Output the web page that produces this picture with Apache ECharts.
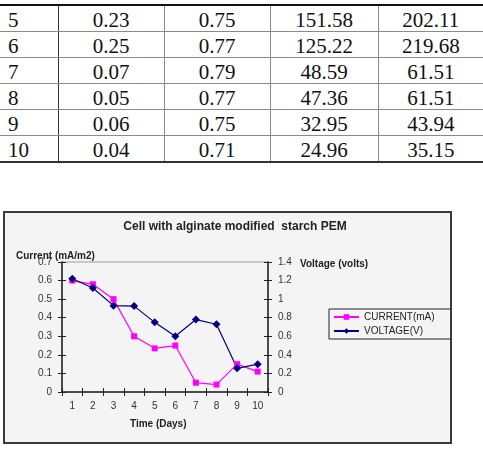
<!DOCTYPE html>
<html>
<head>
<meta charset="utf-8">
<script src="https://cdn.jsdelivr.net/npm/echarts@6/dist/echarts.min.js"></script>
<style>
  html, body { margin: 0; padding: 0; background: #fff; }
  body { width: 483px; height: 452px; position: relative; overflow: hidden; }
  #tbl {
    position: absolute; left: 0; top: 4px; width: 483px;
    border-collapse: collapse; table-layout: fixed;
    font-family: "Liberation Serif", "DejaVu Serif", serif; font-size: 21px; color: #111;
  }
  #tbl td {
    height: 26px; padding: 3px 0 0 0; box-sizing: border-box; line-height: 22px;
    border-top: 1px solid #8a8a8a; border-bottom: 1px solid #8a8a8a;
    border-left: 1px solid #8a8a8a; text-align: center; vertical-align: middle;
  }
  #tbl tr:first-child td { border-top: 2px solid #111; }
  #tbl tr:last-child td { border-bottom: 2px solid #333; }
  #tbl td:first-child { border-left: none; text-align: left; padding-left: 8px; }
  #tbl td:nth-child(2) { border-left-color: #333; }
  #frame {
    position: absolute; left: 3px; top: 211px; width: 449px; height: 233px;
    box-sizing: border-box; border: 2px solid #3a3a3a; background: #f4f4f4;
  }
  #chart { width: 445px; height: 229px; }
</style>
</head>
<body>
<table id="tbl">
  <colgroup><col style="width:58px"><col style="width:106px"><col style="width:106px"><col style="width:108px"><col style="width:105px"></colgroup>
  <tbody></tbody>
</table>
<div id="frame"><div id="chart"></div></div>
<script>
// table rows (days 5-10)
const tableDays = ['5', '6', '7', '8', '9', '10'];
const tableCurrent = ['0.23', '0.25', '0.07', '0.05', '0.06', '0.04'];
const tableVoltage = ['0.75', '0.77', '0.79', '0.77', '0.75', '0.71'];
const tableCol4 = ['151.58', '125.22', '48.59', '47.36', '32.95', '24.96'];
const tableCol5 = ['202.11', '219.68', '61.51', '61.51', '43.94', '35.15'];

// chart data
const days = ['1', '2', '3', '4', '5', '6', '7', '8', '9', '10'];
const current = [0.60, 0.58, 0.50, 0.30, 0.235, 0.25, 0.05, 0.04, 0.15, 0.11];
const voltage = [1.22, 1.12, 0.93, 0.925, 0.75, 0.60, 0.78, 0.73, 0.255, 0.30];

const tbody = document.querySelector('#tbl tbody');
tableDays.forEach((d, i) => {
    const tr = document.createElement('tr');
    [d, tableCurrent[i], tableVoltage[i], tableCol4[i], tableCol5[i]].forEach(v => {
        const td = document.createElement('td');
        td.textContent = v;
        tr.appendChild(td);
    });
    tbody.appendChild(tr);
});

const chart = echarts.init(document.getElementById('chart'), null, { renderer: 'canvas' });
const font = '"Liberation Sans", Arial, sans-serif';
const axisColor = '#222';

const tickOut = { show: true, inside: false, length: 4, lineStyle: { color: axisColor } };
const tickIn = { show: true, inside: true, length: 4, lineStyle: { color: axisColor } };

const option = {
    animation: false,
    textStyle: { fontFamily: font },
    grid: {
        left: 57, right: 182, top: 49, bottom: 50,
        show: true, borderColor: '#9a9a9a', borderWidth: 1, backgroundColor: 'transparent'
    },
    legend: {
        orient: 'vertical',
        left: 324, top: 96,
        padding: [3, 16, 3, 4],
        itemGap: 4,
        itemWidth: 25,
        itemHeight: 7,
        borderColor: '#222',
        borderWidth: 1,
        textStyle: { fontFamily: font, fontSize: 10, color: '#222' },
        data: ['CURRENT(mA)', 'VOLTAGE(V)']
    },
    xAxis: [{
        type: 'category',
        data: days,
        boundaryGap: true,
        axisLine: { lineStyle: { color: axisColor, width: 1.5 } },
        axisTick: Object.assign({ interval: 0 }, tickOut),
        axisLabel: { margin: 9, fontSize: 10, color: '#333', fontFamily: font },
        splitLine: { show: false }
    }, {
        type: 'category',
        data: days,
        position: 'bottom',
        boundaryGap: true,
        axisLine: { show: false },
        axisTick: Object.assign({ interval: 0 }, tickIn),
        axisLabel: { show: false },
        splitLine: { show: false }
    }],
    yAxis: [{
        type: 'value', position: 'left',
        min: 0, max: 0.7, interval: 0.1,
        axisLine: { show: true, lineStyle: { color: axisColor, width: 1.5 } },
        axisTick: tickOut,
        axisLabel: { margin: 10, fontSize: 10, color: '#333', fontFamily: font },
        splitLine: { show: false }
    }, {
        type: 'value', position: 'right',
        min: 0, max: 1.4, interval: 0.2,
        axisLine: { show: true, lineStyle: { color: axisColor, width: 1.5 } },
        axisTick: tickOut,
        axisLabel: { margin: 10, fontSize: 10, color: '#333', fontFamily: font },
        splitLine: { show: false }
    }, {
        type: 'value', position: 'left',
        min: 0, max: 0.7, interval: 0.1,
        axisLine: { show: false },
        axisTick: tickIn,
        axisLabel: { show: false },
        splitLine: { show: false }
    }, {
        type: 'value', position: 'right',
        min: 0, max: 1.4, interval: 0.2,
        axisLine: { show: false },
        axisTick: tickIn,
        axisLabel: { show: false },
        splitLine: { show: false }
    }],
    graphic: [{
        type: 'text', x: 230, y: 8,
        style: { text: 'Cell with alginate modified  starch PEM', font: 'bold 12px ' + font, fill: '#222', textAlign: 'center' }
    }, {
        type: 'text', left: 11, top: 38,
        style: { text: 'Current (mA/m2)', font: 'bold 10px ' + font, fill: '#222' }
    }, {
        type: 'text', left: 295, top: 46,
        style: { text: 'Voltage (volts)', font: 'bold 10px ' + font, fill: '#222' }
    }, {
        type: 'text', left: 125, top: 206,
        style: { text: 'Time (Days)', font: 'bold 10px ' + font, fill: '#222' }
    }],
    series: [{
        name: 'CURRENT(mA)',
        type: 'line',
        data: current,
        yAxisIndex: 0,
        symbol: 'rect',
        symbolSize: 6,
        showAllSymbol: true,
        itemStyle: { color: '#ff00ff' },
        lineStyle: { color: '#ff00ff', width: 1.2 }
    }, {
        name: 'VOLTAGE(V)',
        type: 'line',
        data: voltage,
        yAxisIndex: 1,
        symbol: 'diamond',
        symbolSize: 8,
        showAllSymbol: true,
        itemStyle: { color: '#000080' },
        lineStyle: { color: '#000080', width: 1.2 }
    }]
};
chart.setOption(option);
</script>
</body>
</html>
